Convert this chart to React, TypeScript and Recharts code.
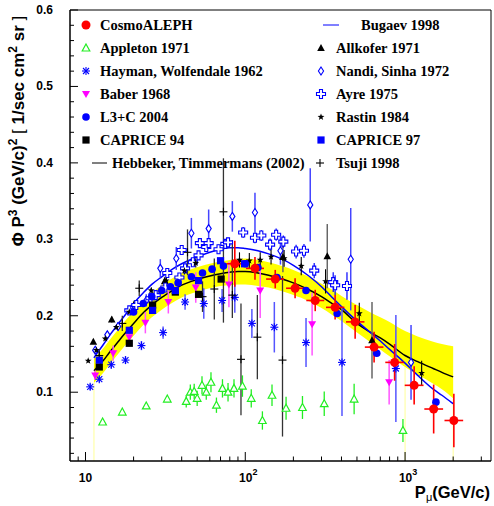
import React from "react";
import {
  Area,
  ComposedChart,
  ErrorBar,
  Line,
  ReferenceLine,
  Scatter,
  XAxis,
  YAxis,
} from "recharts";

// model curves (Hebbeker/Timmermans fit with band, Bugaev)
const curveP = [11.3, 12, 13, 14, 16, 18, 20, 23, 26, 30, 35, 40, 46, 53, 60, 70, 80, 90, 100, 120, 140, 170, 200, 250, 300, 350, 400, 500, 600, 700, 800, 1000, 1200, 1500, 1700, 2000];
const hebbeker = [0.128, 0.134, 0.142, 0.151, 0.166, 0.179, 0.19, 0.204, 0.214, 0.224, 0.233, 0.24, 0.245, 0.249, 0.252, 0.255, 0.257, 0.258, 0.258, 0.256, 0.253, 0.248, 0.243, 0.234, 0.225, 0.216, 0.208, 0.19, 0.179, 0.171, 0.163, 0.148, 0.14, 0.131, 0.126, 0.12];
const bugaev = [0.145, 0.153, 0.163, 0.173, 0.189, 0.203, 0.216, 0.23, 0.241, 0.251, 0.261, 0.268, 0.274, 0.279, 0.283, 0.287, 0.289, 0.289, 0.288, 0.285, 0.281, 0.274, 0.266, 0.252, 0.238, 0.224, 0.212, 0.193, 0.179, 0.167, 0.156, 0.138, 0.122, 0.104, 0.096, 0.085];
const bandLo = [0.112, 0.118, 0.126, 0.135, 0.15, 0.163, 0.174, 0.188, 0.198, 0.208, 0.217, 0.224, 0.229, 0.233, 0.236, 0.239, 0.24, 0.241, 0.241, 0.239, 0.237, 0.232, 0.227, 0.219, 0.21, 0.201, 0.193, 0.178, 0.166, 0.156, 0.147, 0.133, 0.123, 0.111, 0.104, 0.092];
const bandHi = [0.144, 0.15, 0.158, 0.167, 0.182, 0.195, 0.206, 0.22, 0.23, 0.24, 0.249, 0.256, 0.261, 0.265, 0.268, 0.271, 0.273, 0.274, 0.275, 0.273, 0.27, 0.265, 0.26, 0.251, 0.242, 0.234, 0.226, 0.214, 0.205, 0.198, 0.192, 0.18, 0.173, 0.166, 0.163, 0.16];

// CosmoALEPH
const alephP = [86, 115, 154, 205, 274, 365, 487, 640, 860, 1140, 1510, 2020];
const alephF = [0.268, 0.262, 0.248, 0.236, 0.22, 0.211, 0.192, 0.159, 0.139, 0.109, 0.078, 0.063];
const alephEy = [0.03, 0.015, 0.012, 0.013, 0.014, 0.016, 0.022, 0.02, 0.024, 0.025, 0.032, 0.035];
const alephEx = [[10, 12], [14, 16], [19, 21], [25, 29], [33, 38], [45, 52], [60, 70], [80, 92], [108, 124], [145, 165], [190, 220], [255, 290]];

// L3+C 2004
const l3P = [20, 23, 26, 30, 34, 38, 46, 54, 62, 73, 86, 100, 120, 158, 240, 376, 665, 1560];
const l3F = [0.205, 0.216, 0.225, 0.233, 0.238, 0.243, 0.251, 0.256, 0.261, 0.265, 0.268, 0.268, 0.263, 0.25, 0.233, 0.203, 0.151, 0.087];

// CAPRICE 97 / 94
const cap97P = [12.2, 18.8, 26.3, 36.5, 51, 70, 99];
const cap97F = [0.142, 0.181, 0.207, 0.233, 0.246, 0.272, 0.268];
const cap94P = [12.2, 18.8, 26.3, 36.5, 51, 70.6];
const cap94F = [0.133, 0.164, 0.214, 0.231, 0.228, 0.248];

// Baber 1968
const baberP = [11.5, 14.9, 18.8, 23.7, 33, 49, 79, 124, 262, 795];
const baberF = [0.122, 0.151, 0.172, 0.191, 0.218, 0.237, 0.241, 0.233, 0.189, 0.113];
const baberEy = [0.006, 0.01, 0.012, 0.014, 0.015, 0.02, 0.03, 0.036, 0.041, 0.029];

// Hayman, Wolfendale 1962
const haymanP = [10.7, 12.2, 14.5, 17.8, 22.4, 30.6, 42, 55, 71.6, 86, 110, 152, 240, 403, 876];
const haymanF = [0.107, 0.117, 0.136, 0.142, 0.161, 0.178, 0.218, 0.216, 0.22, 0.224, 0.19, 0.185, 0.165, 0.139, 0.131];
const haymanEy = [0.004, 0.004, 0.005, 0.005, 0.006, 0.008, 0.01, 0.02, 0.015, 0.02, 0.019, 0.033, 0.032, 0.07, 0.07];

// Appleton 1971
const appletonP = [12.8, 17, 24, 32.5, 42.7, 45.3, 47.9, 50, 53.6, 57, 61, 66, 72, 78, 85, 96, 109, 128, 147, 180, 228, 312, 480, 970];
const appletonF = [0.061, 0.074, 0.082, 0.091, 0.088, 0.1, 0.101, 0.092, 0.109, 0.1, 0.113, 0.083, 0.105, 0.1, 0.105, 0.108, 0.092, 0.063, 0.096, 0.079, 0.08, 0.085, 0.091, 0.05];
const appletonEy = [0.003, 0.003, 0.003, 0.003, 0.008, 0.01, 0.01, 0.01, 0.012, 0.01, 0.013, 0.01, 0.012, 0.012, 0.012, 0.014, 0.012, 0.012, 0.014, 0.015, 0.015, 0.016, 0.02, 0.015];

// Allkofer 1971
const allkoferP = [11.2, 14.6, 20.2, 31.3, 172, 326, 621];
const allkoferF = [0.166, 0.195, 0.215, 0.245, 0.277, 0.278, 0.168];
const allkoferEy = [0.003, 0.004, 0.005, 0.006, 0.02, 0.042, 0.05];

// Nandi, Sinha 1972
const nandiP = [11.5, 13.7, 16, 19.4, 24, 29.4, 37, 46, 59, 83, 115, 166, 255, 457, 1090];
const nandiF = [0.155, 0.175, 0.186, 0.208, 0.22, 0.262, 0.275, 0.308, 0.314, 0.33, 0.335, 0.285, 0.345, 0.274, 0.139];
const nandiEy = [0.004, 0.005, 0.006, 0.007, 0.008, 0.012, 0.015, 0.02, 0.025, 0.02, 0.026, 0.018, 0.048, 0.067, 0.049];

// Ayre 1975
const ayreP = [18.8, 20.8, 25.5, 27.5, 31.6, 32.5, 38.7, 40, 42, 47, 51, 52, 57, 59, 68, 75, 78, 97, 115, 126, 143, 156, 173, 208, 233, 270, 355, 365, 433];
const ayreF = [0.207, 0.214, 0.223, 0.227, 0.237, 0.256, 0.25, 0.286, 0.262, 0.27, 0.279, 0.295, 0.29, 0.295, 0.287, 0.294, 0.296, 0.309, 0.302, 0.305, 0.293, 0.306, 0.297, 0.284, 0.285, 0.259, 0.244, 0.24, 0.239];
const ayreEy = [0.004, 0.004, 0.004, 0.004, 0.005, 0.005, 0.005, 0.005, 0.005, 0.005, 0.005, 0.006, 0.006, 0.006, 0.006, 0.006, 0.006, 0.007, 0.007, 0.007, 0.008, 0.008, 0.008, 0.009, 0.009, 0.01, 0.013, 0.013, 0.018];

// Rastin 1984
const rastinP = [10.4, 11.7, 13.3, 15.6, 18.8, 25.8, 32, 41.6, 49, 92, 106, 124, 145, 175, 224, 318, 517, 1270];
const rastinF = [0.141, 0.155, 0.17, 0.185, 0.205, 0.233, 0.246, 0.259, 0.269, 0.273, 0.272, 0.273, 0.277, 0.275, 0.265, 0.245, 0.203, 0.125];
const rastinEy = [0.002, 0.002, 0.002, 0.003, 0.003, 0.004, 0.004, 0.005, 0.006, 0.01, 0.01, 0.01, 0.01, 0.011, 0.012, 0.016, 0.014, 0.016];

// Tsuji 1998 (asymmetric errors: [down, up])
const tsujiP = [12.2, 17, 21.7, 43.5, 54, 64, 73, 83, 94, 119, 171];
const tsujiF = [0.148, 0.19, 0.236, 0.283, 0.225, 0.235, 0.336, 0.227, 0.143, 0.172, 0.142];
const tsujiEy = [[0.008, 0.008], [0.01, 0.01], [0.01, 0.01], [0.03, 0.03], [0.02, 0.02], [0.04, 0.04], [0.145, 0.07], [0.03, 0.072], [0.073, 0.073], [0.055, 0.055], [0.1, 0.11]];

const xTicks = [9, 10, 20, 30, 40, 50, 60, 70, 80, 90, 100, 200, 300, 400, 500, 600, 700, 800, 900, 1000, 2000, 3000];
const xMajor: Record<number, string> = { 10: "", 100: "2", 1000: "3" };
const yTicks = [0.02, 0.04, 0.06, 0.08, 0.1, 0.12, 0.14, 0.16, 0.18, 0.2, 0.22, 0.24, 0.26, 0.28, 0.3, 0.32, 0.34, 0.36, 0.38, 0.4, 0.42, 0.44, 0.46, 0.48, 0.5, 0.52, 0.54, 0.56, 0.58, 0.6];
const yLabels = ["0.1", "0.2", "0.3", "0.4", "0.5", "0.6"];

const legendLeft = [
  ["circleRed", "CosmoALEPH"],
  ["triOpenGreen", "Appleton 1971"],
  ["asterisk", "Hayman, Wolfendale 1962"],
  ["triDownMagenta", "Baber 1968"],
  ["circleBlue", "L3+C 2004"],
  ["squareBlack", "CAPRICE 94"],
  ["lineBlack", "Hebbeker, Timmermans (2002)"],
];
const legendRight = [
  ["lineBlue", "Bugaev 1998"],
  ["triBlack", "Allkofer 1971"],
  ["diamond", "Nandi, Sinha 1972"],
  ["openCross", "Ayre 1975"],
  ["star", "Rastin 1984"],
  ["squareBlue", "CAPRICE 97"],
  ["plus", "Tsuji 1998"],
];

const RED = "#ff0000";
const BLUE = "#0000ff";
const GREEN = "#22ee22";
const MAGENTA = "#ff00ff";

const curveRows = curveP.map((p, i) => ({
  p,
  black: hebbeker[i],
  blue: bugaev[i],
  band: [bandLo[i], bandHi[i]],
}));

function rows(p: number[], f: number[], ey?: any[], ex?: any[]) {
  return p.map((v, i) => ({ p: v, f: f[i], ey: ey ? ey[i] : 0, ex: ex ? ex[i] : 0 }));
}

function Marker({ kind, x, y }: { kind: string; x: number; y: number }) {
  switch (kind) {
    case "circleRed":
      return <circle cx={x} cy={y} r={4.5} fill={RED} />;
    case "circleBlue":
      return <circle cx={x} cy={y} r={3.8} fill={BLUE} />;
    case "squareBlack":
      return <rect x={x - 3.6} y={y - 3.6} width={7.2} height={7.2} fill="#000" />;
    case "squareBlue":
      return <rect x={x - 3.6} y={y - 3.6} width={7.2} height={7.2} fill={BLUE} />;
    case "triOpenGreen":
      return (
        <polygon
          points={`${x},${y - 4} ${x + 3.8},${y + 3} ${x - 3.8},${y + 3}`}
          fill="#fff"
          stroke={GREEN}
          strokeWidth={1.2}
        />
      );
    case "triDownMagenta":
      return <polygon points={`${x - 4},${y - 3} ${x + 4},${y - 3} ${x},${y + 4}`} fill={MAGENTA} />;
    case "triBlack":
      return <polygon points={`${x},${y - 4} ${x + 3.8},${y + 3} ${x - 3.8},${y + 3}`} fill="#000" />;
    case "asterisk":
      return (
        <g stroke={BLUE} strokeWidth={1.1}>
          <line x1={x - 4} y1={y} x2={x + 4} y2={y} />
          <line x1={x} y1={y - 4} x2={x} y2={y + 4} />
          <line x1={x - 3} y1={y - 3} x2={x + 3} y2={y + 3} />
          <line x1={x - 3} y1={y + 3} x2={x + 3} y2={y - 3} />
        </g>
      );
    case "diamond":
      return (
        <polygon
          points={`${x},${y - 4} ${x + 2.6},${y} ${x},${y + 4} ${x - 2.6},${y}`}
          fill="#fff"
          stroke={BLUE}
          strokeWidth={1.1}
        />
      );
    case "openCross":
      return (
        <path
          d={`M${x - 1.5},${y - 4.5} h3 v3 h3 v3 h-3 v3 h-3 v-3 h-3 v-3 h3 z`}
          fill="#fff"
          stroke={BLUE}
          strokeWidth={1.1}
        />
      );
    case "star": {
      const pts: string[] = [];
      for (let k = 0; k < 10; k++) {
        const r = k % 2 === 0 ? 3.6 : 1.5;
        const a = -Math.PI / 2 + (k * Math.PI) / 5;
        pts.push(`${x + r * Math.cos(a)},${y + r * Math.sin(a)}`);
      }
      return <polygon points={pts.join(" ")} fill="#000" />;
    }
    case "plus":
      return (
        <g stroke="#000" strokeWidth={1.1}>
          <line x1={x - 4} y1={y} x2={x + 4} y2={y} />
          <line x1={x} y1={y - 4} x2={x} y2={y + 4} />
        </g>
      );
    case "lineBlack":
      return <line x1={x - 7} y1={y} x2={x + 8} y2={y} stroke="#000" strokeWidth={1} />;
    case "lineBlue":
      return <line x1={x - 8} y1={y} x2={x + 8} y2={y} stroke={BLUE} strokeWidth={1} />;
    default:
      return null;
  }
}

const shape = (kind: string) => (props: any) =>
  props.cx == null ? <g /> : <Marker kind={kind} x={props.cx} y={props.cy} />;

function XTick(props: any) {
  const { x, y, payload } = props;
  const sup = xMajor[payload.value];
  const major = sup !== undefined;
  return (
    <g>
      <line x1={x} x2={x} y1={y} y2={y - (major ? 9 : 4.5)} stroke="#000" strokeWidth={1} />
      {major && (
        <text
          x={x + (sup ? 3 : 0)}
          y={y + 21}
          textAnchor="middle"
          fontFamily="Liberation Sans, Arial, sans-serif"
          fontWeight="bold"
          fontSize={12}
          fill="#000"
        >
          10
          {sup && (
            <tspan dy={-7} fontSize={9}>
              {sup}
            </tspan>
          )}
        </text>
      )}
    </g>
  );
}

function YTick(props: any) {
  const { x, y, payload } = props;
  const label = payload.value.toFixed(1);
  const major = Math.abs(payload.value * 10 - Math.round(payload.value * 10)) < 1e-6;
  return (
    <g>
      <line x1={x} x2={x + (major ? 8 : 4)} y1={y} y2={y} stroke="#000" strokeWidth={1} />
      {major && yLabels.includes(label) && (
        <text
          x={53}
          y={y + 4}
          textAnchor="end"
          fontFamily="Liberation Sans, Arial, sans-serif"
          fontWeight="bold"
          fontSize={12}
          fill="#000"
        >
          {label}
        </text>
      )}
    </g>
  );
}

const SERIF = "Liberation Serif, Times New Roman, serif";
const SANS = "Liberation Sans, Arial, sans-serif";

export default function App() {
  return (
    <div style={{ position: "absolute", left: 0, top: 0, width: 494, height: 506, background: "#fff" }}>
      <ComposedChart
        width={494}
        height={506}
        data={curveRows}
        margin={{ top: 10, right: 3, left: 0, bottom: 0 }}
      >
        <XAxis
          dataKey="p"
          type="number"
          scale="log"
          domain={[8, 3450]}
          allowDataOverflow
          ticks={xTicks}
          interval={0}
          height={45}
          tickLine={false}
          tickSize={0}
          tickMargin={0}
          tick={<XTick />}
          axisLine={{ stroke: "#000", strokeWidth: 1.5 }}
        />
        <YAxis
          type="number"
          domain={[0.01, 0.6]}
          allowDataOverflow
          ticks={yTicks}
          interval={0}
          width={70}
          tickLine={false}
          tickSize={0}
          tickMargin={0}
          tick={<YTick />}
          axisLine={{ stroke: "#000", strokeWidth: 1.5 }}
        />
        <ReferenceLine y={0.6} stroke="#000" strokeWidth={1} />
        <ReferenceLine x={3450} stroke="#000" strokeWidth={1} />
        <ReferenceLine
          segment={[{ x: curveP[0], y: 0.01 }, { x: curveP[0], y: bandLo[0] }]}
          stroke="#ffff99"
          strokeWidth={1}
        />
        <ReferenceLine
          segment={[{ x: 1000, y: 0.01 }, { x: 1000, y: bandLo[31] }]}
          stroke="#ffff99"
          strokeWidth={1}
        />
        <ReferenceLine
          segment={[{ x: curveP[35], y: 0.01 }, { x: curveP[35], y: bandLo[35] }]}
          stroke="#ffff99"
          strokeWidth={1}
        />
        <Area
          dataKey="band"
          type="monotone"
          fill="#ffff00"
          fillOpacity={1}
          stroke="none"
          isAnimationActive={false}
        />
        <Line dataKey="black" type="monotone" stroke="#000" strokeWidth={1.5} dot={false} isAnimationActive={false} />
        <Line dataKey="blue" type="monotone" stroke={BLUE} strokeWidth={1.5} dot={false} isAnimationActive={false} />

        <Scatter data={rows(appletonP, appletonF, appletonEy)} dataKey="f" shape={shape("triOpenGreen")} isAnimationActive={false}>
          <ErrorBar dataKey="ey" direction="y" width={0} stroke={GREEN} strokeWidth={1.3} />
        </Scatter>
        <Scatter data={rows(haymanP, haymanF, haymanEy)} dataKey="f" shape={shape("asterisk")} isAnimationActive={false}>
          <ErrorBar dataKey="ey" direction="y" width={0} stroke="#5555ff" strokeWidth={1.5} />
        </Scatter>
        <Scatter data={rows(tsujiP, tsujiF, tsujiEy)} dataKey="f" shape={shape("plus")} isAnimationActive={false}>
          <ErrorBar dataKey="ey" direction="y" width={0} stroke="#333" strokeWidth={1.3} />
        </Scatter>
        <Scatter data={rows(allkoferP, allkoferF, allkoferEy)} dataKey="f" shape={shape("triBlack")} isAnimationActive={false}>
          <ErrorBar dataKey="ey" direction="y" width={0} stroke="#666" strokeWidth={1.5} />
        </Scatter>
        <Scatter data={rows(nandiP, nandiF, nandiEy)} dataKey="f" shape={shape("diamond")} isAnimationActive={false}>
          <ErrorBar dataKey="ey" direction="y" width={0} stroke="#4444ff" strokeWidth={1.5} />
        </Scatter>
        <Scatter data={rows(ayreP, ayreF, ayreEy)} dataKey="f" shape={shape("openCross")} isAnimationActive={false}>
          <ErrorBar dataKey="ey" direction="y" width={0} stroke={BLUE} strokeWidth={1.2} />
        </Scatter>
        <Scatter data={rows(baberP, baberF, baberEy)} dataKey="f" shape={shape("triDownMagenta")} isAnimationActive={false}>
          <ErrorBar dataKey="ey" direction="y" width={0} stroke="#ff55ff" strokeWidth={1.5} />
        </Scatter>
        <Scatter data={rows(rastinP, rastinF, rastinEy)} dataKey="f" shape={shape("star")} isAnimationActive={false}>
          <ErrorBar dataKey="ey" direction="y" width={0} stroke="#000" strokeWidth={1.1} />
        </Scatter>
        <Scatter data={rows(cap94P, cap94F)} dataKey="f" shape={shape("squareBlack")} isAnimationActive={false} />
        <Scatter data={rows(cap97P, cap97F)} dataKey="f" shape={shape("squareBlue")} isAnimationActive={false} />
        <Scatter data={rows(l3P, l3F)} dataKey="f" shape={shape("circleBlue")} isAnimationActive={false} />
        <Scatter data={rows(alephP, alephF, alephEy, alephEx)} dataKey="f" shape={shape("circleRed")} isAnimationActive={false}>
          <ErrorBar dataKey="ey" direction="y" width={0} stroke={RED} strokeWidth={1.6} />
          <ErrorBar dataKey="ex" direction="x" width={0} stroke={RED} strokeWidth={1.6} />
        </Scatter>
      </ComposedChart>

      <svg
        width={494}
        height={506}
        style={{ position: "absolute", left: 0, top: 0, pointerEvents: "none" }}
      >
        {legendLeft.map(([kind, label], i) => {
          const y = 25 + i * 23;
          const isLine = kind === "lineBlack";
          return (
            <g key={label}>
              <Marker kind={kind} x={isLine ? 99 : 86} y={y} />
              <text x={isLine ? 112 : 100} y={y + 5} fontFamily={SERIF} fontWeight="bold" fontSize={14.5} fill="#000">
                {label}
              </text>
            </g>
          );
        })}
        {legendRight.map(([kind, label], i) => {
          const y = 25 + i * 23;
          const isLine = kind === "lineBlue";
          return (
            <g key={label}>
              <Marker kind={kind} x={isLine ? 331 : kind === "plus" ? 320 : 321} y={y} />
              <text x={isLine ? 361 : 336} y={y + 5} fontFamily={SERIF} fontWeight="bold" fontSize={14.5} fill="#000">
                {label}
              </text>
            </g>
          );
        })}

        <text
          transform="rotate(-90)"
          x={-131}
          y={24}
          textAnchor="middle"
          fontFamily={SANS}
          fontWeight="bold"
          fontSize={17}
          fill="#000"
        >
          Φ P<tspan dy={-7} fontSize={12}>3</tspan>
          <tspan dy={7}> (GeV/c)</tspan>
          <tspan dy={-7} fontSize={12}>2</tspan>
          <tspan dy={7} fontWeight="normal"> [ </tspan>
          <tspan>1/sec cm</tspan>
          <tspan dy={-7} fontSize={12}>2</tspan>
          <tspan dy={7}> sr </tspan>
          <tspan fontWeight="normal">]</tspan>
        </text>

        <text x={490} y={498} textAnchor="end" fontFamily={SANS} fontWeight="bold" fontSize={16.5} fill="#000">
          P<tspan dy={3} fontSize={11} fontWeight="normal">μ</tspan>
          <tspan dy={-3}>(GeV/c)</tspan>
        </text>
      </svg>
    </div>
  );
}
